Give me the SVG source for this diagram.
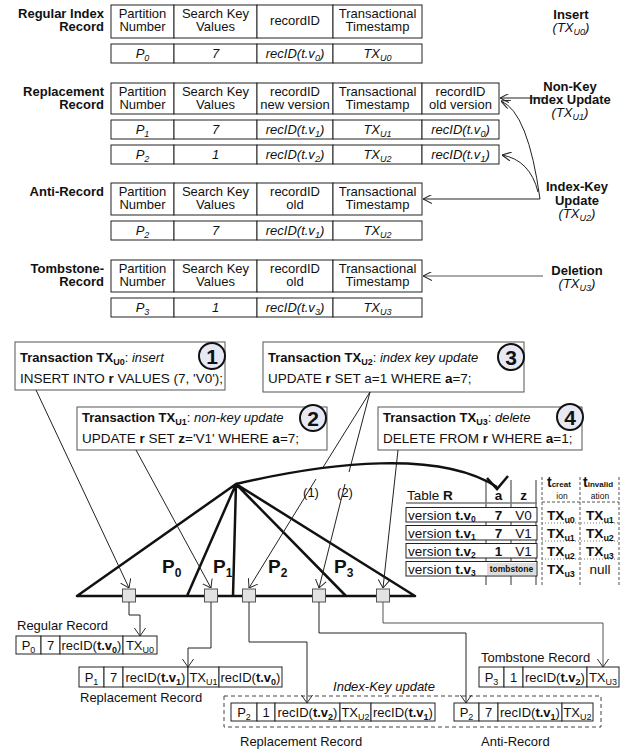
<svg xmlns="http://www.w3.org/2000/svg" width="632" height="751" viewBox="0 0 632 751" font-family="'Liberation Sans', Arial, sans-serif" font-size="13">
<defs>
<style>
text{fill:#111}
.c{text-anchor:middle}
.e{text-anchor:end}
.b{font-weight:bold}
.i{font-style:italic}
.sb{font-size:9px}
.cell{fill:#fff;stroke:#222;stroke-width:1}
.tbox{fill:#fff;stroke:#555;stroke-width:1}
.circ{fill:#e6e8f4;stroke:#111;stroke-width:2}
.num{font-size:21px;font-weight:bold;text-anchor:middle}
.tree{stroke:#111;stroke-width:2.5;fill:none;stroke-linecap:round}
.ln{stroke:#222;stroke-width:1;fill:none}
.lg{stroke:#555;stroke-width:1;fill:none}
.leaf{fill:#e2e2e2;stroke:#555;stroke-width:1}
.tr{font-size:13.5px}
.pl{font-size:19px;font-weight:bold}
.dash{stroke:#555;stroke-width:1;stroke-dasharray:3,2;fill:none}
.dot{stroke:#777;stroke-width:1;stroke-dasharray:1,2;fill:none}
</style>
<marker id="ah" viewBox="0 0 10 10" refX="10" refY="5" markerWidth="9" markerHeight="9" markerUnits="userSpaceOnUse" orient="auto">
<path d="M0,0 L10,5 L0,10" fill="none" stroke="#222" stroke-width="1.2"/>
</marker>
<marker id="ah2" viewBox="0 0 10 14" refX="10" refY="7" markerWidth="8" markerHeight="12" markerUnits="userSpaceOnUse" orient="auto">
<path d="M0,0 L10,7 L0,14" fill="none" stroke="#222" stroke-width="1.2"/>
</marker>
</defs>
<rect width="632" height="751" fill="#fff"/>

<!-- Top record formats -->
<g id="regular-index-record">
<text class="b e" x="104" y="18">Regular Index</text>
<text class="b e" x="104" y="31">Record</text>
<rect class="cell" x="111" y="5" width="63" height="33"/>
<rect class="cell" x="174" y="5" width="83" height="33"/>
<rect class="cell" x="257" y="5" width="76" height="33"/>
<rect class="cell" x="333" y="5" width="89" height="33"/>
<text class="c" x="142.5" y="18">Partition</text><text class="c" x="142.5" y="31">Number</text>
<text class="c" x="215.5" y="18">Search Key</text><text class="c" x="215.5" y="31">Values</text>
<text class="c" x="295" y="25">recordID</text>
<text class="c" x="377.5" y="18">Transactional</text><text class="c" x="377.5" y="31">Timestamp</text>
<rect class="cell" x="111" y="44" width="63" height="19"/>
<rect class="cell" x="174" y="44" width="83" height="19"/>
<rect class="cell" x="257" y="44" width="76" height="19"/>
<rect class="cell" x="333" y="44" width="89" height="19"/>
<text class="c i" x="142.5" y="58">P<tspan class="sb" dy="3">0</tspan></text>
<text class="c i" x="215.5" y="58">7</text>
<text class="c i" x="295" y="58">recID(t.v<tspan class="sb" dy="3">0</tspan><tspan dy="-3">)</tspan></text>
<text class="c i" x="377.5" y="58">TX<tspan class="sb" dy="3">U0</tspan></text>
</g>

<g id="replacement-record">
<text class="b e" x="104" y="96">Replacement</text>
<text class="b e" x="104" y="109">Record</text>
<rect class="cell" x="111" y="83" width="63" height="31"/>
<rect class="cell" x="174" y="83" width="83" height="31"/>
<rect class="cell" x="257" y="83" width="76" height="31"/>
<rect class="cell" x="333" y="83" width="89" height="31"/>
<rect class="cell" x="422" y="83" width="77" height="31"/>
<text class="c" x="142.5" y="96">Partition</text><text class="c" x="142.5" y="109">Number</text>
<text class="c" x="215.5" y="96">Search Key</text><text class="c" x="215.5" y="109">Values</text>
<text class="c" x="295" y="96">recordID</text><text class="c" x="295" y="109">new version</text>
<text class="c" x="377.5" y="96">Transactional</text><text class="c" x="377.5" y="109">Timestamp</text>
<text class="c" x="460.5" y="96">recordID</text><text class="c" x="460.5" y="109">old version</text>
<rect class="cell" x="111" y="120" width="63" height="19"/>
<rect class="cell" x="174" y="120" width="83" height="19"/>
<rect class="cell" x="257" y="120" width="76" height="19"/>
<rect class="cell" x="333" y="120" width="89" height="19"/>
<rect class="cell" x="422" y="120" width="77" height="19"/>
<text class="c i" x="142.5" y="134">P<tspan class="sb" dy="3">1</tspan></text>
<text class="c i" x="215.5" y="134">7</text>
<text class="c i" x="295" y="134">recID(t.v<tspan class="sb" dy="3">1</tspan><tspan dy="-3">)</tspan></text>
<text class="c i" x="377.5" y="134">TX<tspan class="sb" dy="3">U1</tspan></text>
<text class="c i" x="460.5" y="134">recID(t.v<tspan class="sb" dy="3">0</tspan><tspan dy="-3">)</tspan></text>
<rect class="cell" x="111" y="145" width="63" height="19"/>
<rect class="cell" x="174" y="145" width="83" height="19"/>
<rect class="cell" x="257" y="145" width="76" height="19"/>
<rect class="cell" x="333" y="145" width="89" height="19"/>
<rect class="cell" x="422" y="145" width="77" height="19"/>
<text class="c i" x="142.5" y="159">P<tspan class="sb" dy="3">2</tspan></text>
<text class="c i" x="215.5" y="159">1</text>
<text class="c i" x="295" y="159">recID(t.v<tspan class="sb" dy="3">2</tspan><tspan dy="-3">)</tspan></text>
<text class="c i" x="377.5" y="159">TX<tspan class="sb" dy="3">U2</tspan></text>
<text class="c i" x="460.5" y="159">recID(t.v<tspan class="sb" dy="3">1</tspan><tspan dy="-3">)</tspan></text>
</g>

<g id="anti-record">
<text class="b e" x="104" y="196">Anti-Record</text>
<rect class="cell" x="111" y="183" width="63" height="32"/>
<rect class="cell" x="174" y="183" width="83" height="32"/>
<rect class="cell" x="257" y="183" width="76" height="32"/>
<rect class="cell" x="333" y="183" width="89" height="32"/>
<text class="c" x="142.5" y="196">Partition</text><text class="c" x="142.5" y="209">Number</text>
<text class="c" x="215.5" y="196">Search Key</text><text class="c" x="215.5" y="209">Values</text>
<text class="c" x="295" y="196">recordID</text><text class="c" x="295" y="209">old</text>
<text class="c" x="377.5" y="196">Transactional</text><text class="c" x="377.5" y="209">Timestamp</text>
<rect class="cell" x="111" y="221" width="63" height="19"/>
<rect class="cell" x="174" y="221" width="83" height="19"/>
<rect class="cell" x="257" y="221" width="76" height="19"/>
<rect class="cell" x="333" y="221" width="89" height="19"/>
<text class="c i" x="142.5" y="235">P<tspan class="sb" dy="3">2</tspan></text>
<text class="c i" x="215.5" y="235">7</text>
<text class="c i" x="295" y="235">recID(t.v<tspan class="sb" dy="3">1</tspan><tspan dy="-3">)</tspan></text>
<text class="c i" x="377.5" y="235">TX<tspan class="sb" dy="3">U2</tspan></text>
</g>

<g id="tombstone-record">
<text class="b e" x="104" y="273">Tombstone-</text>
<text class="b e" x="104" y="286">Record</text>
<rect class="cell" x="111" y="260" width="63" height="32"/>
<rect class="cell" x="174" y="260" width="83" height="32"/>
<rect class="cell" x="257" y="260" width="76" height="32"/>
<rect class="cell" x="333" y="260" width="89" height="32"/>
<text class="c" x="142.5" y="273">Partition</text><text class="c" x="142.5" y="286">Number</text>
<text class="c" x="215.5" y="273">Search Key</text><text class="c" x="215.5" y="286">Values</text>
<text class="c" x="295" y="273">recordID</text><text class="c" x="295" y="286">old</text>
<text class="c" x="377.5" y="273">Transactional</text><text class="c" x="377.5" y="286">Timestamp</text>
<rect class="cell" x="111" y="298" width="63" height="19"/>
<rect class="cell" x="174" y="298" width="83" height="19"/>
<rect class="cell" x="257" y="298" width="76" height="19"/>
<rect class="cell" x="333" y="298" width="89" height="19"/>
<text class="c i" x="142.5" y="312">P<tspan class="sb" dy="3">3</tspan></text>
<text class="c i" x="215.5" y="312">1</text>
<text class="c i" x="295" y="312">recID(t.v<tspan class="sb" dy="3">3</tspan><tspan dy="-3">)</tspan></text>
<text class="c i" x="377.5" y="312">TX<tspan class="sb" dy="3">U3</tspan></text>
</g>

<g id="label-insert">
<text class="b c" x="571" y="19">Insert</text>
<text class="c i" x="571" y="32">(TX<tspan class="sb" dy="3">U0</tspan><tspan dy="-3">)</tspan></text>
</g>
<g id="label-nonkey">
<text class="b c" x="570" y="91">Non-Key</text>
<text class="b c" x="570" y="104">Index Update</text>
<text class="c i" x="570" y="117">(TX<tspan class="sb" dy="3">U1</tspan><tspan dy="-3">)</tspan></text>
</g>
<g id="label-indexkey">
<text class="b c" x="577" y="191">Index-Key</text>
<text class="b c" x="577" y="205">Update</text>
<text class="c i" x="577" y="218">(TX<tspan class="sb" dy="3">U2</tspan><tspan dy="-3">)</tspan></text>
</g>
<g id="label-deletion">
<text class="b c" x="577" y="275">Deletion</text>
<text class="c i" x="577" y="288">(TX<tspan class="sb" dy="3">U3</tspan><tspan dy="-3">)</tspan></text>
</g>

<!-- Transactions -->
<g id="tx-u0">
<rect class="tbox" x="15" y="342" width="210" height="48"/>
<text class="b" x="20" y="362">Transaction TX<tspan class="sb" dy="3">U0</tspan><tspan dy="-3" font-weight="normal">: </tspan><tspan font-weight="normal" font-style="italic">insert</tspan></text>
<text x="20" y="383" font-size="13.5">INSERT INTO <tspan class="b">r</tspan> VALUES (7, 'V0');</text>
<circle class="circ" cx="212" cy="356" r="13"/>
<text class="num" x="212" y="363.5">1</text>
</g>
<g id="tx-u2">
<rect class="tbox" x="263" y="342" width="261" height="50"/>
<text class="b" x="268" y="362">Transaction TX<tspan class="sb" dy="3">U2</tspan><tspan dy="-3" font-weight="normal">: </tspan><tspan font-weight="normal" font-style="italic">index key update</tspan></text>
<text x="268" y="383" font-size="13.5">UPDATE <tspan class="b">r</tspan> SET a=1 WHERE <tspan class="b">a</tspan>=7;</text>
<circle class="circ" cx="511" cy="357" r="13"/>
<text class="num" x="511" y="364.5">3</text>
</g>
<g id="tx-u1">
<rect class="tbox" x="77" y="407" width="250" height="43"/>
<text class="b" x="82" y="422">Transaction TX<tspan class="sb" dy="3">U1</tspan><tspan dy="-3" font-weight="normal">: </tspan><tspan font-weight="normal" font-style="italic">non-key update</tspan></text>
<text x="82" y="443" font-size="13.5">UPDATE <tspan class="b">r</tspan> SET <tspan class="b">z</tspan>='V1' WHERE <tspan class="b">a</tspan>=7;</text>
<circle class="circ" cx="313" cy="418" r="13"/>
<text class="num" x="313" y="425.5">2</text>
</g>
<g id="tx-u3">
<rect class="tbox" x="378" y="407" width="204" height="43"/>
<text class="b" x="383" y="422">Transaction TX<tspan class="sb" dy="3">U3</tspan><tspan dy="-3" font-weight="normal">: </tspan><tspan font-weight="normal" font-style="italic">delete</tspan></text>
<text x="383" y="443" font-size="13.5">DELETE FROM <tspan class="b">r</tspan> WHERE <tspan class="b">a</tspan>=1;</text>
<circle class="circ" cx="570" cy="417" r="13"/>
<text class="num" x="570" y="424.5">4</text>
</g>

<!-- Index tree -->
<g id="index-tree">
<path class="tree" d="M236,484 L77,596 M236,484 L187,596 M236,484 L233,596 M236,484 L346,596 M236,484 L415,596 M77,596 L415,596"/>
<text class="pl" x="162" y="573">P<tspan font-size="12" dy="4">0</tspan></text>
<text class="pl" x="213" y="573">P<tspan font-size="12" dy="4">1</tspan></text>
<text class="pl" x="268" y="573">P<tspan font-size="12" dy="4">2</tspan></text>
<text class="pl" x="334" y="573">P<tspan font-size="12" dy="4">3</tspan></text>
<rect class="leaf" x="122.5" y="589" width="13" height="13"/>
<rect class="leaf" x="204.5" y="589" width="13" height="13"/>
<rect class="leaf" x="242.5" y="589" width="13" height="13"/>
<rect class="leaf" x="312.5" y="589" width="13" height="13"/>
<rect class="leaf" x="376.5" y="589" width="13" height="13"/>
</g>

<!-- Table R -->
<g id="table-r">
<text class="tr" x="407" y="500">Table <tspan class="b">R</tspan></text>
<text class="tr b c" x="498.5" y="500">a</text>
<text class="tr b c" x="523.5" y="500">z</text>
<path d="M486,480 V585 M511,480 V585 M536,480 V585" stroke="#777" stroke-width="1.5" fill="none"/>
<line x1="406" y1="503" x2="537" y2="503" stroke="#777" stroke-width="1.5"/>
<rect class="cell" x="406" y="507.5" width="131" height="14.5" fill="none"/>
<rect class="cell" x="406" y="525.5" width="131" height="14.5" fill="none"/>
<rect class="cell" x="406" y="543.5" width="131" height="14.5" fill="none"/>
<rect class="cell" x="406" y="561.5" width="131" height="14.5" fill="none"/>
<rect x="487" y="563" width="49" height="12" fill="#ddd"/>
<text class="tr" x="408" y="519.5">version <tspan class="b">t.v</tspan><tspan class="b" font-size="8.5" dy="2.5">0</tspan></text>
<text class="tr" x="408" y="537.5">version <tspan class="b">t.v</tspan><tspan class="b" font-size="8.5" dy="2.5">1</tspan></text>
<text class="tr" x="408" y="555.5">version <tspan class="b">t.v</tspan><tspan class="b" font-size="8.5" dy="2.5">2</tspan></text>
<text class="tr" x="408" y="573.5">version <tspan class="b">t.v</tspan><tspan class="b" font-size="8.5" dy="2.5">3</tspan></text>
<text class="tr b c" x="498.5" y="519.5">7</text>
<text class="tr b c" x="498.5" y="537.5">7</text>
<text class="tr b c" x="498.5" y="555.5">1</text>
<text class="tr c" x="523.5" y="519.5">V0</text>
<text class="tr c" x="523.5" y="537.5">V1</text>
<text class="tr c" x="523.5" y="555.5">V1</text>
<text class="b c" x="511.5" y="572" font-size="8.5">tombstone</text>
<path class="dash" d="M542,477 V585 M580,477 V585 M619,477 V585 M542,502 H619"/>
<path class="dot" d="M542,523 H619 M542,541 H619 M542,559 H619"/>
<text class="b" x="547" y="487" font-size="14">t<tspan font-size="8">creat</tspan></text>
<text class="c" x="562" y="499" font-size="8.5">ion</text>
<text class="b" x="583" y="487" font-size="14">t<tspan font-size="8">invalid</tspan></text>
<text class="c" x="600" y="499" font-size="8.5">ation</text>
<text class="tr b c" x="561" y="519.5">TX<tspan class="sb" dy="3">u0</tspan></text>
<text class="tr b c" x="600" y="519.5">TX<tspan class="sb" dy="3">u1</tspan></text>
<text class="tr b c" x="561" y="537.5">TX<tspan class="sb" dy="3">u1</tspan></text>
<text class="tr b c" x="600" y="537.5">TX<tspan class="sb" dy="3">u2</tspan></text>
<text class="tr b c" x="561" y="555.5">TX<tspan class="sb" dy="3">u2</tspan></text>
<text class="tr b c" x="600" y="555.5">TX<tspan class="sb" dy="3">u3</tspan></text>
<text class="tr b c" x="561" y="573.5">TX<tspan class="sb" dy="3">u3</tspan></text>
<text class="tr c" x="600" y="573.5">null</text>
</g>

<!-- Bottom records -->
<g id="rec-regular">
<text x="17" y="630">Regular Record</text>
<rect class="cell" x="16" y="636" width="25" height="18"/>
<rect class="cell" x="41" y="636" width="19" height="18"/>
<rect class="cell" x="60" y="636" width="63" height="18"/>
<rect class="cell" x="123" y="636" width="34" height="18"/>
<text class="c" x="28.5" y="650">P<tspan class="sb" dy="3">0</tspan></text>
<text class="c" x="50.5" y="650">7</text>
<text class="c" x="91.5" y="650">recID(<tspan class="b">t.v</tspan><tspan class="b sb" dy="3">0</tspan><tspan dy="-3">)</tspan></text>
<text class="c" x="140" y="650">TX<tspan class="sb" dy="3">U0</tspan></text>
</g>
<g id="rec-replacement">
<rect class="cell" x="79" y="667" width="25" height="20"/>
<rect class="cell" x="104" y="667" width="19" height="20"/>
<rect class="cell" x="123" y="667" width="65" height="20"/>
<rect class="cell" x="188" y="667" width="31" height="20"/>
<rect class="cell" x="219" y="667" width="63" height="20"/>
<text class="c" x="91.5" y="682">P<tspan class="sb" dy="3">1</tspan></text>
<text class="c" x="113.5" y="682">7</text>
<text class="c" x="155.5" y="682">recID(<tspan class="b">t.v</tspan><tspan class="b sb" dy="3">1</tspan><tspan dy="-3">)</tspan></text>
<text class="c" x="203.5" y="682">TX<tspan class="sb" dy="3">U1</tspan></text>
<text class="c" x="250.5" y="682">recID(<tspan class="b">t.v</tspan><tspan class="b sb" dy="3">0</tspan><tspan dy="-3">)</tspan></text>
<text x="80" y="702">Replacement Record</text>
</g>
<g id="rec-tombstone">
<text x="481" y="662">Tombstone Record</text>
<rect class="cell" x="479" y="667" width="25" height="20"/>
<rect class="cell" x="504" y="667" width="19" height="20"/>
<rect class="cell" x="523" y="667" width="64" height="20"/>
<rect class="cell" x="587" y="667" width="32" height="20"/>
<text class="c" x="491.5" y="682">P<tspan class="sb" dy="3">3</tspan></text>
<text class="c" x="513.5" y="682">1</text>
<text class="c" x="555" y="682">recID(<tspan class="b">t.v</tspan><tspan class="b sb" dy="3">2</tspan><tspan dy="-3">)</tspan></text>
<text class="c" x="603" y="682">TX<tspan class="sb" dy="3">U3</tspan></text>
</g>
<g id="index-key-update">
<rect x="224" y="696" width="377" height="31" fill="none" stroke="#444" stroke-width="1" stroke-dasharray="4,3"/>
<text class="c i" x="384" y="691">Index-Key update</text>
</g>
<g id="rec-replacement-2">
<rect class="cell" x="231" y="703" width="26" height="18"/>
<rect class="cell" x="257" y="703" width="18" height="18"/>
<rect class="cell" x="275" y="703" width="65" height="18"/>
<rect class="cell" x="340" y="703" width="31" height="18"/>
<rect class="cell" x="371" y="703" width="64" height="18"/>
<text class="c" x="244" y="717">P<tspan class="sb" dy="3">2</tspan></text>
<text class="c" x="266" y="717">1</text>
<text class="c" x="307.5" y="717">recID(<tspan class="b">t.v</tspan><tspan class="b sb" dy="3">2</tspan><tspan dy="-3">)</tspan></text>
<text class="c" x="355.5" y="717">TX<tspan class="sb" dy="3">U2</tspan></text>
<text class="c" x="403" y="717">recID(<tspan class="b">t.v</tspan><tspan class="b sb" dy="3">1</tspan><tspan dy="-3">)</tspan></text>
<text x="240" y="746">Replacement Record</text>
</g>
<g id="rec-anti">
<rect class="cell" x="454" y="703" width="25" height="18"/>
<rect class="cell" x="479" y="703" width="19" height="18"/>
<rect class="cell" x="498" y="703" width="64" height="18"/>
<rect class="cell" x="562" y="703" width="31" height="18"/>
<text class="c" x="466.5" y="717">P<tspan class="sb" dy="3">2</tspan></text>
<text class="c" x="488.5" y="717">7</text>
<text class="c" x="530" y="717">recID(<tspan class="b">t.v</tspan><tspan class="b sb" dy="3">1</tspan><tspan dy="-3">)</tspan></text>
<text class="c" x="577.5" y="717">TX<tspan class="sb" dy="3">U2</tspan></text>
<text x="481" y="746">Anti-Record</text>
</g>

<!-- Connectors -->
<g id="connectors">
<line class="ln" x1="543" y1="98" x2="500" y2="98" marker-end="url(#ah)"/>
<path class="ln" d="M540,199 Q528,112 501,101" marker-end="url(#ah)"/>
<path class="ln" d="M538,192 Q530,160 502,155" marker-end="url(#ah)"/>
<line class="ln" x1="540" y1="199" x2="423" y2="199" marker-end="url(#ah)"/>
<line class="lg" x1="543" y1="276" x2="423" y2="276" marker-end="url(#ah)"/>

<line class="ln" x1="36" y1="390" x2="129" y2="588" marker-end="url(#ah2)"/>
<line class="ln" x1="136" y1="450" x2="211" y2="588" marker-end="url(#ah2)"/>
<path class="ln" d="M370,392 L322,469 M316,479 L249,588" marker-end="url(#ah2)"/>
<path class="ln" d="M370,392 L349,472 M345,484 L319,588" marker-end="url(#ah2)"/>
<text class="c" x="311" y="497">(1)</text>
<text class="c" x="345" y="497">(2)</text>
<line class="ln" x1="398" y1="450" x2="383" y2="588" marker-end="url(#ah2)"/>

<path d="M236,484 C330,462 440,450 497,487" stroke="#111" stroke-width="2.5" fill="none"/>
<path d="M487,478 L497,489 L508,476" stroke="#111" stroke-width="2.5" fill="none" stroke-linejoin="miter"/>

<path class="ln" d="M129,602 V615 H140 V636" marker-end="url(#ah2)"/>
<path class="ln" d="M211,602 V648 H188 V667" marker-end="url(#ah2)"/>
<path class="ln" d="M249,602 V642 H307 V703" marker-end="url(#ah2)"/>
<path class="ln" d="M319,602 V633 H466 V703" marker-end="url(#ah2)"/>
<path class="lg" d="M383,602 V623 H603 V667" marker-end="url(#ah2)"/>
</g>
</svg>
